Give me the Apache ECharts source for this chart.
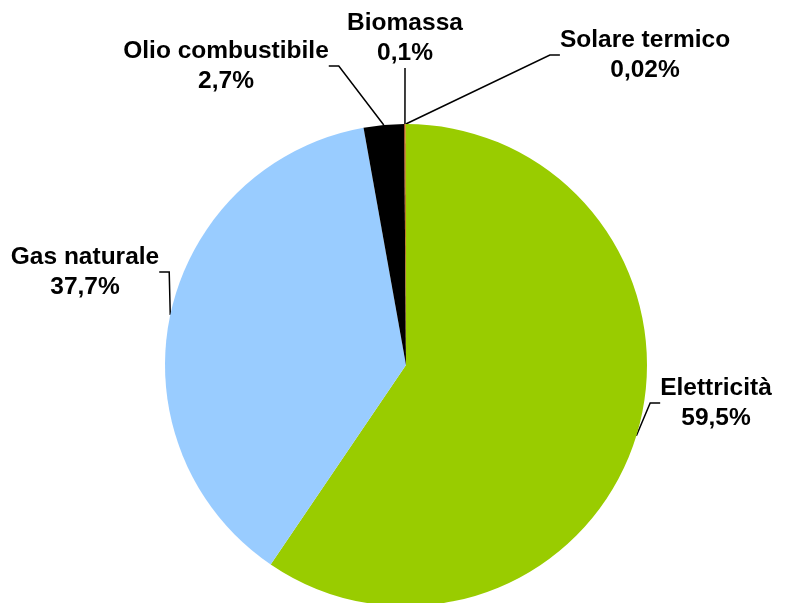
<!DOCTYPE html>
<html>
<head>
<meta charset="utf-8">
<script src="https://cdn.jsdelivr.net/npm/echarts@6/dist/echarts.min.js"></script>
<style>
  html, body { margin: 0; padding: 0; background: #fff; }
  #chart { width: 787px; height: 603px; }
</style>
</head>
<body>
<div id="chart"></div>
<script>
// Energy sources share (%)
const categories = ['Elettricità', 'Gas naturale', 'Olio combustibile', 'Biomassa', 'Solare termico'];
const shares = [59.5, 37.7, 2.7, 0.1, 0.02];
const colors = ['#99CC00', '#99CCFF', '#000000', '#993300', '#FFFF00'];

// Label anchor points (centre of the two-line label block)
const labelPos = [
  [716, 403],
  [85, 272],
  [226, 66],
  [405, 38],
  [645, 55]
];

const fmt = v => String(v).replace('.', ',') + '%';

const chart = echarts.init(document.getElementById('chart'), null, { renderer: 'canvas' });
chart.setOption({
  animation: false,
  backgroundColor: '#ffffff',
  series: [{
    type: 'pie',
    center: [406, 365],
    radius: 241,
    startAngle: 90,
    clockwise: true,
    avoidLabelOverlap: false,
    data: categories.map((name, i) => ({
      name,
      value: shares[i],
      itemStyle: { color: colors[i] }
    })),
    itemStyle: { borderWidth: 0 },
    label: {
      show: true,
      position: 'outside',
      formatter: p => p.name + '\n' + fmt(p.value),
      fontFamily: 'Liberation Sans, Arial, sans-serif',
      fontWeight: 'bold',
      fontSize: 24.5,
      lineHeight: 30,
      color: '#000000',
      align: 'center'
    },
    labelLine: {
      show: true,
      length: 10,
      length2: 10,
      lineStyle: { color: '#000000', width: 1.5 }
    },
    labelLayout: params => {
      const p = labelPos[params.dataIndex];
      return { x: p[0], y: p[1], align: 'center', verticalAlign: 'middle' };
    },
    emphasis: { disabled: true }
  }]
});
</script>
</body>
</html>
